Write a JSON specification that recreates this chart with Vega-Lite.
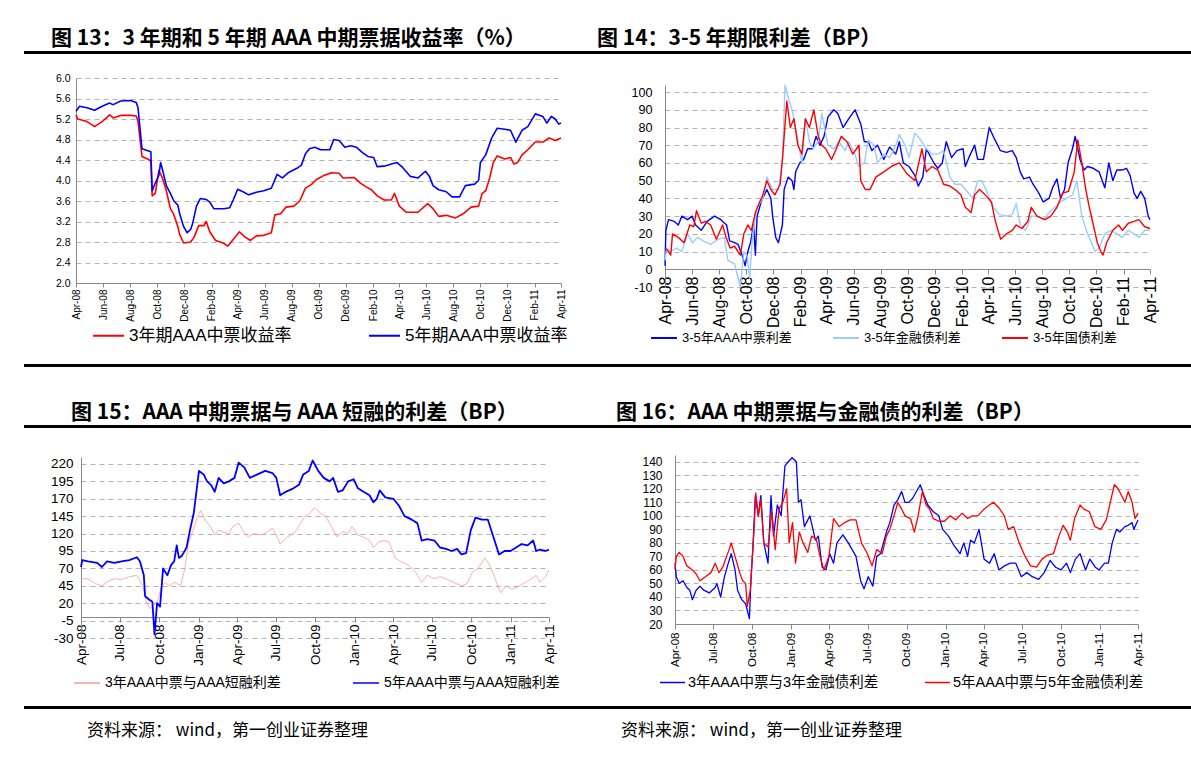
{
"$schema": "https://vega.github.io/schema/vega-lite/v6.json",
"padding": {"left": 24, "top": 26, "right": 0, "bottom": 0},
"background": "white",
"config": {
  "font": "Liberation Sans, Noto Sans CJK SC",
  "view": {"stroke": null},
  "axis": {"labelColor": "#000", "domainColor": "#888", "tickColor": "#888", "gridColor": "#a0a0a0", "gridDash": [5, 4], "gridWidth": 0.8},
  "title": {"font": "Noto Sans CJK SC", "fontWeight": "bold", "fontSize": 21, "color": "#000", "anchor": "start", "offset": -2},
  "line": {"strokeJoin": "round"}
},
"datasets": {
"p1a": [{"d":"2008-04-01","v":5.28},{"d":"2008-04-05","v":5.2},{"d":"2008-04-26","v":5.15},{"d":"2008-05-13","v":5.05},{"d":"2008-05-30","v":5.15},{"d":"2008-06-16","v":5.28},{"d":"2008-06-24","v":5.22},{"d":"2008-07-11","v":5.27},{"d":"2008-08-02","v":5.27},{"d":"2008-08-15","v":5.26},{"d":"2008-08-19","v":5.15},{"d":"2008-08-28","v":4.47},{"d":"2008-09-10","v":4.42},{"d":"2008-09-17","v":4.38},{"d":"2008-09-20","v":3.7},{"d":"2008-09-27","v":3.75},{"d":"2008-10-05","v":4.2},{"d":"2008-10-13","v":4.05},{"d":"2008-10-22","v":3.8},{"d":"2008-10-31","v":3.45},{"d":"2008-11-07","v":3.35},{"d":"2008-11-17","v":3.1},{"d":"2008-11-21","v":2.95},{"d":"2008-11-30","v":2.78},{"d":"2008-12-16","v":2.8},{"d":"2008-12-24","v":2.9},{"d":"2009-01-03","v":3.12},{"d":"2009-01-15","v":3.12},{"d":"2009-01-20","v":3.2},{"d":"2009-01-28","v":3.0},{"d":"2009-02-10","v":2.83},{"d":"2009-02-27","v":2.78},{"d":"2009-03-10","v":2.72},{"d":"2009-03-22","v":2.85},{"d":"2009-04-05","v":3.0},{"d":"2009-04-17","v":2.9},{"d":"2009-04-30","v":2.83},{"d":"2009-05-13","v":2.92},{"d":"2009-05-30","v":2.93},{"d":"2009-06-16","v":2.98},{"d":"2009-06-24","v":3.33},{"d":"2009-07-07","v":3.35},{"d":"2009-07-19","v":3.48},{"d":"2009-08-06","v":3.5},{"d":"2009-08-19","v":3.6},{"d":"2009-09-01","v":3.85},{"d":"2009-09-14","v":3.92},{"d":"2009-09-26","v":4.02},{"d":"2009-10-13","v":4.1},{"d":"2009-10-30","v":4.15},{"d":"2009-11-16","v":4.14},{"d":"2009-11-25","v":4.05},{"d":"2009-12-20","v":4.06},{"d":"2010-01-03","v":3.95},{"d":"2010-01-15","v":3.88},{"d":"2010-01-28","v":3.82},{"d":"2010-02-10","v":3.7},{"d":"2010-02-26","v":3.62},{"d":"2010-03-14","v":3.62},{"d":"2010-03-21","v":3.75},{"d":"2010-04-01","v":3.5},{"d":"2010-04-17","v":3.38},{"d":"2010-05-13","v":3.38},{"d":"2010-06-04","v":3.55},{"d":"2010-06-16","v":3.45},{"d":"2010-06-29","v":3.3},{"d":"2010-07-16","v":3.32},{"d":"2010-08-06","v":3.27},{"d":"2010-08-23","v":3.35},{"d":"2010-09-10","v":3.48},{"d":"2010-09-27","v":3.5},{"d":"2010-10-05","v":3.75},{"d":"2010-10-13","v":3.8},{"d":"2010-10-22","v":4.05},{"d":"2010-10-30","v":4.35},{"d":"2010-11-08","v":4.48},{"d":"2010-11-25","v":4.42},{"d":"2010-12-08","v":4.45},{"d":"2010-12-16","v":4.32},{"d":"2010-12-24","v":4.35},{"d":"2011-01-03","v":4.5},{"d":"2011-01-16","v":4.6},{"d":"2011-02-02","v":4.75},{"d":"2011-02-19","v":4.75},{"d":"2011-03-05","v":4.83},{"d":"2011-03-19","v":4.78},{"d":"2011-04-01","v":4.83}],
"p1b": [{"d":"2008-04-01","v":5.35},{"d":"2008-04-09","v":5.45},{"d":"2008-04-26","v":5.42},{"d":"2008-05-13","v":5.37},{"d":"2008-05-30","v":5.45},{"d":"2008-06-16","v":5.51},{"d":"2008-06-24","v":5.48},{"d":"2008-07-11","v":5.55},{"d":"2008-08-02","v":5.56},{"d":"2008-08-15","v":5.52},{"d":"2008-08-19","v":5.42},{"d":"2008-08-28","v":4.62},{"d":"2008-09-10","v":4.58},{"d":"2008-09-17","v":4.56},{"d":"2008-09-20","v":3.8},{"d":"2008-09-27","v":3.95},{"d":"2008-10-05","v":4.1},{"d":"2008-10-09","v":4.35},{"d":"2008-10-13","v":4.22},{"d":"2008-10-22","v":3.9},{"d":"2008-10-31","v":3.75},{"d":"2008-11-08","v":3.6},{"d":"2008-11-17","v":3.52},{"d":"2008-11-21","v":3.35},{"d":"2008-11-30","v":3.1},{"d":"2008-12-08","v":2.98},{"d":"2008-12-16","v":3.05},{"d":"2008-12-20","v":3.15},{"d":"2008-12-29","v":3.5},{"d":"2009-01-07","v":3.65},{"d":"2009-01-20","v":3.63},{"d":"2009-01-28","v":3.58},{"d":"2009-02-06","v":3.45},{"d":"2009-02-18","v":3.45},{"d":"2009-03-01","v":3.45},{"d":"2009-03-14","v":3.47},{"d":"2009-03-22","v":3.62},{"d":"2009-04-01","v":3.83},{"d":"2009-04-13","v":3.78},{"d":"2009-04-26","v":3.72},{"d":"2009-05-13","v":3.77},{"d":"2009-05-30","v":3.8},{"d":"2009-06-16","v":3.85},{"d":"2009-06-29","v":4.12},{"d":"2009-07-11","v":4.05},{"d":"2009-07-24","v":4.15},{"d":"2009-08-15","v":4.25},{"d":"2009-08-23","v":4.3},{"d":"2009-09-01","v":4.52},{"d":"2009-09-10","v":4.62},{"d":"2009-09-22","v":4.65},{"d":"2009-10-05","v":4.6},{"d":"2009-10-26","v":4.6},{"d":"2009-11-04","v":4.8},{"d":"2009-11-16","v":4.78},{"d":"2009-11-29","v":4.65},{"d":"2009-12-12","v":4.68},{"d":"2009-12-25","v":4.65},{"d":"2010-01-07","v":4.55},{"d":"2010-01-20","v":4.47},{"d":"2010-02-02","v":4.45},{"d":"2010-02-10","v":4.27},{"d":"2010-02-26","v":4.28},{"d":"2010-03-14","v":4.32},{"d":"2010-03-27","v":4.35},{"d":"2010-04-09","v":4.25},{"d":"2010-04-26","v":4.08},{"d":"2010-05-13","v":4.05},{"d":"2010-05-30","v":4.18},{"d":"2010-06-08","v":4.08},{"d":"2010-06-16","v":3.9},{"d":"2010-06-29","v":3.82},{"d":"2010-07-16","v":3.78},{"d":"2010-07-29","v":3.68},{"d":"2010-08-15","v":3.68},{"d":"2010-08-28","v":3.9},{"d":"2010-09-18","v":3.93},{"d":"2010-09-27","v":4.0},{"d":"2010-10-01","v":4.35},{"d":"2010-10-13","v":4.5},{"d":"2010-10-26","v":4.82},{"d":"2010-11-08","v":5.02},{"d":"2010-11-25","v":5.0},{"d":"2010-12-08","v":4.98},{"d":"2010-12-20","v":4.75},{"d":"2011-01-03","v":4.98},{"d":"2011-01-16","v":5.05},{"d":"2011-02-02","v":5.3},{"d":"2011-02-19","v":5.25},{"d":"2011-02-28","v":5.12},{"d":"2011-03-10","v":5.25},{"d":"2011-03-19","v":5.2},{"d":"2011-03-27","v":5.1},{"d":"2011-04-01","v":5.12}],
"p2a": [{"d":"2008-04-01","v":2},{"d":"2008-04-03","v":22},{"d":"2008-04-09","v":28},{"d":"2008-04-22","v":27},{"d":"2008-05-01","v":25},{"d":"2008-05-09","v":30},{"d":"2008-05-22","v":28},{"d":"2008-06-01","v":30},{"d":"2008-06-09","v":25},{"d":"2008-06-22","v":22},{"d":"2008-07-05","v":27},{"d":"2008-07-22","v":30},{"d":"2008-08-05","v":28},{"d":"2008-08-18","v":25},{"d":"2008-08-25","v":16},{"d":"2008-09-05","v":15},{"d":"2008-09-13","v":14},{"d":"2008-09-22","v":8},{"d":"2008-09-29","v":2},{"d":"2008-10-05","v":10},{"d":"2008-10-11","v":15},{"d":"2008-10-18","v":25},{"d":"2008-10-22","v":8},{"d":"2008-10-26","v":30},{"d":"2008-11-04","v":38},{"d":"2008-11-17","v":45},{"d":"2008-11-26","v":40},{"d":"2008-11-30","v":30},{"d":"2008-12-07","v":18},{"d":"2008-12-13","v":15},{"d":"2008-12-22","v":25},{"d":"2008-12-26","v":45},{"d":"2009-01-04","v":52},{"d":"2009-01-13","v":50},{"d":"2009-01-17","v":45},{"d":"2009-01-21","v":55},{"d":"2009-01-30","v":60},{"d":"2009-02-08","v":62},{"d":"2009-02-17","v":68},{"d":"2009-02-28","v":68},{"d":"2009-03-08","v":75},{"d":"2009-03-17","v":70},{"d":"2009-03-26","v":75},{"d":"2009-04-04","v":86},{"d":"2009-04-17","v":90},{"d":"2009-04-26","v":88},{"d":"2009-05-08","v":80},{"d":"2009-05-21","v":85},{"d":"2009-06-04","v":90},{"d":"2009-06-17","v":82},{"d":"2009-06-25","v":72},{"d":"2009-07-04","v":72},{"d":"2009-07-12","v":67},{"d":"2009-07-25","v":70},{"d":"2009-08-08","v":62},{"d":"2009-08-21","v":69},{"d":"2009-09-04","v":65},{"d":"2009-09-12","v":72},{"d":"2009-09-21","v":60},{"d":"2009-10-04","v":58},{"d":"2009-10-17","v":53},{"d":"2009-10-25","v":47},{"d":"2009-11-04","v":52},{"d":"2009-11-12","v":68},{"d":"2009-11-29","v":60},{"d":"2009-12-08","v":57},{"d":"2009-12-18","v":60},{"d":"2009-12-27","v":72},{"d":"2010-01-08","v":63},{"d":"2010-01-20","v":67},{"d":"2010-02-03","v":68},{"d":"2010-02-08","v":58},{"d":"2010-02-16","v":63},{"d":"2010-03-01","v":70},{"d":"2010-03-08","v":62},{"d":"2010-03-21","v":62},{"d":"2010-04-03","v":80},{"d":"2010-04-16","v":73},{"d":"2010-04-28","v":67},{"d":"2010-05-12","v":66},{"d":"2010-05-25","v":67},{"d":"2010-06-03","v":63},{"d":"2010-06-12","v":55},{"d":"2010-06-20","v":51},{"d":"2010-07-03","v":52},{"d":"2010-07-11","v":48},{"d":"2010-07-24","v":43},{"d":"2010-08-03","v":38},{"d":"2010-08-16","v":40},{"d":"2010-08-24","v":46},{"d":"2010-09-03","v":51},{"d":"2010-09-11","v":40},{"d":"2010-09-20","v":45},{"d":"2010-09-28","v":60},{"d":"2010-10-08","v":68},{"d":"2010-10-14","v":75},{"d":"2010-10-25","v":62},{"d":"2010-11-03","v":56},{"d":"2010-11-11","v":58},{"d":"2010-11-24","v":57},{"d":"2010-12-07","v":55},{"d":"2010-12-20","v":46},{"d":"2010-12-29","v":60},{"d":"2011-01-07","v":50},{"d":"2011-01-16","v":56},{"d":"2011-01-28","v":56},{"d":"2011-02-07","v":57},{"d":"2011-02-15","v":53},{"d":"2011-02-24","v":43},{"d":"2011-03-03","v":40},{"d":"2011-03-11","v":44},{"d":"2011-03-20","v":40},{"d":"2011-03-28","v":30},{"d":"2011-04-01","v":28}],
"p2b": [{"d":"2008-04-01","v":5},{"d":"2008-04-05","v":12},{"d":"2008-04-14","v":10},{"d":"2008-04-27","v":12},{"d":"2008-05-09","v":10},{"d":"2008-05-22","v":20},{"d":"2008-06-02","v":15},{"d":"2008-06-13","v":18},{"d":"2008-06-26","v":16},{"d":"2008-07-13","v":14},{"d":"2008-07-30","v":17},{"d":"2008-08-13","v":18},{"d":"2008-08-21","v":5},{"d":"2008-09-05","v":3},{"d":"2008-09-18","v":-10},{"d":"2008-09-26","v":10},{"d":"2008-10-03","v":8},{"d":"2008-10-09","v":-5},{"d":"2008-10-16","v":20},{"d":"2008-10-26","v":35},{"d":"2008-11-08","v":40},{"d":"2008-11-17","v":52},{"d":"2008-11-30","v":45},{"d":"2008-12-13","v":45},{"d":"2008-12-22","v":60},{"d":"2008-12-28","v":104},{"d":"2009-01-04","v":97},{"d":"2009-01-13","v":90},{"d":"2009-01-21","v":80},{"d":"2009-02-04","v":60},{"d":"2009-02-12","v":85},{"d":"2009-02-21","v":72},{"d":"2009-03-01","v":68},{"d":"2009-03-13","v":72},{"d":"2009-03-21","v":88},{"d":"2009-04-04","v":70},{"d":"2009-04-17","v":68},{"d":"2009-04-29","v":72},{"d":"2009-05-13","v":67},{"d":"2009-05-21","v":72},{"d":"2009-06-04","v":65},{"d":"2009-06-12","v":58},{"d":"2009-06-25","v":60},{"d":"2009-07-04","v":73},{"d":"2009-07-17","v":70},{"d":"2009-07-25","v":60},{"d":"2009-08-08","v":65},{"d":"2009-08-21","v":63},{"d":"2009-09-04","v":70},{"d":"2009-09-12","v":76},{"d":"2009-09-25","v":70},{"d":"2009-10-04","v":63},{"d":"2009-10-17","v":77},{"d":"2009-10-30","v":73},{"d":"2009-11-12","v":68},{"d":"2009-11-25","v":65},{"d":"2009-12-08","v":65},{"d":"2009-12-21","v":67},{"d":"2010-01-04","v":52},{"d":"2010-01-16","v":48},{"d":"2010-01-29","v":48},{"d":"2010-02-12","v":44},{"d":"2010-02-25","v":40},{"d":"2010-03-08","v":50},{"d":"2010-03-17","v":50},{"d":"2010-03-30","v":43},{"d":"2010-04-12","v":35},{"d":"2010-04-25","v":31},{"d":"2010-05-12","v":30},{"d":"2010-05-25","v":31},{"d":"2010-06-03","v":37},{"d":"2010-06-12","v":25},{"d":"2010-06-24","v":22},{"d":"2010-07-07","v":30},{"d":"2010-07-20","v":30},{"d":"2010-08-03","v":28},{"d":"2010-08-16","v":32},{"d":"2010-08-29","v":35},{"d":"2010-09-11","v":38},{"d":"2010-09-24","v":40},{"d":"2010-10-08","v":42},{"d":"2010-10-18","v":50},{"d":"2010-10-29","v":30},{"d":"2010-11-11","v":20},{"d":"2010-11-20","v":15},{"d":"2010-11-28","v":10},{"d":"2010-12-07","v":12},{"d":"2010-12-20","v":20},{"d":"2011-01-03","v":22},{"d":"2011-01-16","v":20},{"d":"2011-01-28","v":18},{"d":"2011-02-11","v":22},{"d":"2011-02-24","v":20},{"d":"2011-03-07","v":18},{"d":"2011-03-20","v":22},{"d":"2011-04-01","v":22}],
"p2c": [{"d":"2008-04-01","v":12},{"d":"2008-04-09","v":10},{"d":"2008-04-14","v":8},{"d":"2008-04-18","v":20},{"d":"2008-05-01","v":18},{"d":"2008-05-14","v":15},{"d":"2008-05-27","v":25},{"d":"2008-06-05","v":24},{"d":"2008-06-11","v":33},{"d":"2008-06-22","v":26},{"d":"2008-07-01","v":27},{"d":"2008-07-13","v":25},{"d":"2008-07-26","v":17},{"d":"2008-08-09","v":25},{"d":"2008-08-17","v":18},{"d":"2008-08-26","v":12},{"d":"2008-09-05","v":13},{"d":"2008-09-18","v":8},{"d":"2008-09-26","v":20},{"d":"2008-10-05","v":25},{"d":"2008-10-13","v":22},{"d":"2008-10-22","v":32},{"d":"2008-10-30","v":37},{"d":"2008-11-08","v":42},{"d":"2008-11-17","v":50},{"d":"2008-11-26","v":45},{"d":"2008-12-05","v":42},{"d":"2008-12-17","v":48},{"d":"2008-12-23","v":65},{"d":"2009-01-01","v":95},{"d":"2009-01-09","v":80},{"d":"2009-01-17","v":85},{"d":"2009-01-26","v":70},{"d":"2009-02-04","v":65},{"d":"2009-02-12","v":85},{"d":"2009-02-21","v":80},{"d":"2009-03-03","v":90},{"d":"2009-03-13","v":75},{"d":"2009-03-21","v":70},{"d":"2009-03-30","v":68},{"d":"2009-04-12","v":62},{"d":"2009-04-21","v":67},{"d":"2009-05-04","v":75},{"d":"2009-05-17","v":72},{"d":"2009-05-30","v":65},{"d":"2009-06-13","v":70},{"d":"2009-06-17","v":50},{"d":"2009-06-27","v":45},{"d":"2009-07-08","v":45},{"d":"2009-07-21","v":52},{"d":"2009-08-08","v":55},{"d":"2009-08-25","v":58},{"d":"2009-09-12","v":60},{"d":"2009-09-29","v":54},{"d":"2009-10-17","v":50},{"d":"2009-11-02","v":68},{"d":"2009-11-12","v":55},{"d":"2009-11-25","v":58},{"d":"2009-12-08","v":56},{"d":"2009-12-21","v":48},{"d":"2010-01-04","v":47},{"d":"2010-01-16","v":45},{"d":"2010-01-29","v":42},{"d":"2010-02-08","v":35},{"d":"2010-02-21","v":32},{"d":"2010-03-01","v":42},{"d":"2010-03-12","v":45},{"d":"2010-03-25","v":42},{"d":"2010-04-08","v":38},{"d":"2010-04-16","v":28},{"d":"2010-04-25","v":20},{"d":"2010-04-29","v":17},{"d":"2010-05-12","v":20},{"d":"2010-05-25","v":22},{"d":"2010-06-03","v":25},{"d":"2010-06-16","v":23},{"d":"2010-06-29","v":27},{"d":"2010-07-07","v":35},{"d":"2010-07-20","v":30},{"d":"2010-08-07","v":28},{"d":"2010-08-20","v":30},{"d":"2010-09-03","v":35},{"d":"2010-09-16","v":43},{"d":"2010-09-29","v":44},{"d":"2010-10-12","v":55},{"d":"2010-10-20","v":73},{"d":"2010-10-29","v":60},{"d":"2010-11-07","v":45},{"d":"2010-11-15","v":35},{"d":"2010-11-24","v":25},{"d":"2010-12-03","v":15},{"d":"2010-12-11","v":10},{"d":"2010-12-16","v":8},{"d":"2010-12-24","v":15},{"d":"2011-01-07","v":22},{"d":"2011-01-20","v":25},{"d":"2011-01-29","v":22},{"d":"2011-02-11","v":26},{"d":"2011-02-24","v":27},{"d":"2011-03-07","v":28},{"d":"2011-03-20","v":24},{"d":"2011-04-01","v":23}],
"p3a": [{"d":"2008-04-01","v":55},{"d":"2008-04-17","v":55},{"d":"2008-05-05","v":48},{"d":"2008-05-20","v":45},{"d":"2008-06-05","v":52},{"d":"2008-06-18","v":55},{"d":"2008-07-05","v":54},{"d":"2008-07-23","v":58},{"d":"2008-08-10","v":60},{"d":"2008-08-23","v":45},{"d":"2008-09-02","v":20},{"d":"2008-09-10","v":12},{"d":"2008-09-19","v":18},{"d":"2008-09-28","v":25},{"d":"2008-10-07","v":45},{"d":"2008-10-15","v":50},{"d":"2008-10-24","v":45},{"d":"2008-11-07","v":50},{"d":"2008-11-20","v":45},{"d":"2008-11-30","v":70},{"d":"2008-12-08","v":105},{"d":"2008-12-21","v":128},{"d":"2008-12-30","v":145},{"d":"2009-01-06","v":153},{"d":"2009-01-16","v":140},{"d":"2009-01-29","v":130},{"d":"2009-02-08","v":118},{"d":"2009-02-17","v":125},{"d":"2009-03-01","v":122},{"d":"2009-03-13","v":120},{"d":"2009-03-22","v":130},{"d":"2009-04-05","v":135},{"d":"2009-04-14","v":125},{"d":"2009-04-27","v":115},{"d":"2009-05-10","v":120},{"d":"2009-05-28","v":118},{"d":"2009-06-10","v":122},{"d":"2009-06-23","v":128},{"d":"2009-07-02","v":118},{"d":"2009-07-11","v":105},{"d":"2009-07-28","v":115},{"d":"2009-08-15","v":122},{"d":"2009-08-28","v":135},{"d":"2009-09-07","v":145},{"d":"2009-09-20","v":150},{"d":"2009-09-29","v":157},{"d":"2009-10-12","v":150},{"d":"2009-10-25","v":145},{"d":"2009-11-08","v":130},{"d":"2009-11-21","v":115},{"d":"2009-12-04","v":123},{"d":"2009-12-17","v":120},{"d":"2009-12-26","v":130},{"d":"2010-01-09","v":118},{"d":"2010-01-22","v":115},{"d":"2010-02-05","v":110},{"d":"2010-02-14","v":100},{"d":"2010-02-27","v":108},{"d":"2010-03-10","v":110},{"d":"2010-03-23","v":108},{"d":"2010-04-06","v":85},{"d":"2010-04-19","v":80},{"d":"2010-05-06","v":75},{"d":"2010-05-24","v":65},{"d":"2010-06-07","v":50},{"d":"2010-06-20","v":60},{"d":"2010-07-07","v":55},{"d":"2010-07-20","v":58},{"d":"2010-08-03","v":55},{"d":"2010-08-20","v":50},{"d":"2010-09-08","v":45},{"d":"2010-09-21","v":48},{"d":"2010-10-04","v":65},{"d":"2010-10-17","v":70},{"d":"2010-11-02","v":85},{"d":"2010-11-13","v":75},{"d":"2010-11-26","v":55},{"d":"2010-12-09","v":35},{"d":"2010-12-22","v":45},{"d":"2011-01-05","v":40},{"d":"2011-01-23","v":45},{"d":"2011-02-05","v":50},{"d":"2011-02-19","v":55},{"d":"2011-03-02","v":60},{"d":"2011-03-11","v":50},{"d":"2011-03-24","v":58},{"d":"2011-04-01","v":68}],
"p3b": [{"d":"2008-04-01","v":72},{"d":"2008-04-04","v":82},{"d":"2008-04-17","v":80},{"d":"2008-05-09","v":78},{"d":"2008-05-20","v":72},{"d":"2008-06-01","v":80},{"d":"2008-06-18","v":78},{"d":"2008-07-05","v":80},{"d":"2008-07-23","v":82},{"d":"2008-08-10","v":86},{"d":"2008-08-17","v":80},{"d":"2008-08-26","v":60},{"d":"2008-08-29","v":30},{"d":"2008-09-08","v":25},{"d":"2008-09-15","v":22},{"d":"2008-09-20","v":-25},{"d":"2008-09-26","v":20},{"d":"2008-10-03","v":15},{"d":"2008-10-10","v":70},{"d":"2008-10-20","v":60},{"d":"2008-10-29","v":75},{"d":"2008-11-05","v":80},{"d":"2008-11-11","v":103},{"d":"2008-11-16","v":85},{"d":"2008-11-23","v":88},{"d":"2008-12-04","v":100},{"d":"2008-12-12","v":125},{"d":"2008-12-21","v":150},{"d":"2008-12-28","v":185},{"d":"2009-01-02","v":210},{"d":"2009-01-13","v":205},{"d":"2009-01-21","v":195},{"d":"2009-01-30","v":190},{"d":"2009-02-08","v":180},{"d":"2009-02-17","v":200},{"d":"2009-03-01","v":192},{"d":"2009-03-13","v":195},{"d":"2009-03-26","v":200},{"d":"2009-04-05","v":222},{"d":"2009-04-18","v":215},{"d":"2009-05-01","v":200},{"d":"2009-05-19","v":205},{"d":"2009-06-06","v":210},{"d":"2009-06-23","v":207},{"d":"2009-07-02","v":200},{"d":"2009-07-11","v":175},{"d":"2009-07-24","v":180},{"d":"2009-08-11","v":185},{"d":"2009-08-24","v":190},{"d":"2009-09-03","v":205},{"d":"2009-09-16","v":210},{"d":"2009-09-25","v":225},{"d":"2009-10-08","v":210},{"d":"2009-10-21","v":200},{"d":"2009-11-04","v":195},{"d":"2009-11-12","v":200},{"d":"2009-11-23","v":180},{"d":"2009-12-04","v":182},{"d":"2009-12-17","v":195},{"d":"2009-12-30","v":198},{"d":"2010-01-09","v":185},{"d":"2010-01-22","v":180},{"d":"2010-02-05","v":175},{"d":"2010-02-14","v":165},{"d":"2010-02-22","v":170},{"d":"2010-03-01","v":182},{"d":"2010-03-14","v":172},{"d":"2010-04-02","v":170},{"d":"2010-04-15","v":160},{"d":"2010-04-28","v":145},{"d":"2010-05-15","v":140},{"d":"2010-05-28","v":135},{"d":"2010-06-07","v":110},{"d":"2010-06-20","v":112},{"d":"2010-07-07","v":110},{"d":"2010-07-20","v":100},{"d":"2010-08-03","v":98},{"d":"2010-08-16","v":95},{"d":"2010-08-29","v":98},{"d":"2010-09-08","v":90},{"d":"2010-09-19","v":92},{"d":"2010-09-30","v":125},{"d":"2010-10-11","v":143},{"d":"2010-10-26","v":140},{"d":"2010-11-09","v":140},{"d":"2010-11-22","v":115},{"d":"2010-12-05","v":90},{"d":"2010-12-18","v":95},{"d":"2011-01-01","v":95},{"d":"2011-01-14","v":100},{"d":"2011-01-27","v":105},{"d":"2011-02-10","v":103},{"d":"2011-02-23","v":110},{"d":"2011-03-02","v":95},{"d":"2011-03-11","v":97},{"d":"2011-03-24","v":95},{"d":"2011-04-01","v":97}],
"p4a": [{"d":"2008-04-01","v":65},{"d":"2008-04-04","v":55},{"d":"2008-04-11","v":50},{"d":"2008-04-20","v":52},{"d":"2008-04-29","v":47},{"d":"2008-05-06","v":45},{"d":"2008-05-12","v":38},{"d":"2008-05-21","v":45},{"d":"2008-05-30","v":48},{"d":"2008-06-08","v":45},{"d":"2008-06-21","v":43},{"d":"2008-07-05","v":47},{"d":"2008-07-09","v":50},{"d":"2008-07-18","v":40},{"d":"2008-07-27","v":55},{"d":"2008-08-05","v":65},{"d":"2008-08-12","v":72},{"d":"2008-08-21","v":60},{"d":"2008-08-27","v":45},{"d":"2008-09-06","v":38},{"d":"2008-09-15","v":35},{"d":"2008-09-24","v":24},{"d":"2008-09-28","v":55},{"d":"2008-10-02","v":75},{"d":"2008-10-08","v":115},{"d":"2008-10-15","v":100},{"d":"2008-10-21","v":115},{"d":"2008-10-28","v":80},{"d":"2008-11-07","v":65},{"d":"2008-11-14","v":115},{"d":"2008-11-20","v":85},{"d":"2008-11-29","v":108},{"d":"2008-12-08","v":100},{"d":"2008-12-17","v":137},{"d":"2008-12-25","v":140},{"d":"2009-01-03","v":143},{"d":"2009-01-13","v":140},{"d":"2009-01-18","v":110},{"d":"2009-01-24","v":112},{"d":"2009-02-01","v":92},{"d":"2009-02-14","v":100},{"d":"2009-02-27","v":82},{"d":"2009-03-06","v":85},{"d":"2009-03-15","v":62},{"d":"2009-03-24","v":60},{"d":"2009-04-02","v":72},{"d":"2009-04-11","v":65},{"d":"2009-04-19","v":80},{"d":"2009-05-03","v":86},{"d":"2009-05-16","v":80},{"d":"2009-05-25","v":75},{"d":"2009-06-03","v":70},{"d":"2009-06-14","v":52},{"d":"2009-06-22","v":46},{"d":"2009-07-02","v":55},{"d":"2009-07-13","v":48},{"d":"2009-07-22","v":70},{"d":"2009-07-31","v":72},{"d":"2009-08-14","v":88},{"d":"2009-08-22","v":95},{"d":"2009-09-01","v":108},{"d":"2009-09-10","v":112},{"d":"2009-09-19","v":118},{"d":"2009-09-27","v":110},{"d":"2009-10-06","v":110},{"d":"2009-10-15","v":113},{"d":"2009-10-24","v":118},{"d":"2009-11-02","v":123},{"d":"2009-11-11","v":115},{"d":"2009-11-20","v":108},{"d":"2009-12-03","v":103},{"d":"2009-12-16","v":100},{"d":"2009-12-25","v":90},{"d":"2010-01-08","v":85},{"d":"2010-01-21","v":78},{"d":"2010-02-04","v":72},{"d":"2010-02-13","v":80},{"d":"2010-02-22","v":70},{"d":"2010-03-01","v":82},{"d":"2010-03-10","v":80},{"d":"2010-03-21","v":90},{"d":"2010-04-02","v":68},{"d":"2010-04-15","v":65},{"d":"2010-04-26","v":72},{"d":"2010-05-07","v":60},{"d":"2010-05-20","v":63},{"d":"2010-06-03","v":65},{"d":"2010-06-16","v":65},{"d":"2010-06-29","v":55},{"d":"2010-07-12","v":58},{"d":"2010-07-25","v":55},{"d":"2010-08-09","v":53},{"d":"2010-08-22","v":58},{"d":"2010-09-05","v":67},{"d":"2010-09-18","v":62},{"d":"2010-10-01","v":60},{"d":"2010-10-14","v":65},{"d":"2010-10-23","v":58},{"d":"2010-11-04","v":68},{"d":"2010-11-15","v":72},{"d":"2010-11-28","v":60},{"d":"2010-12-08","v":68},{"d":"2010-12-21","v":62},{"d":"2010-12-30","v":60},{"d":"2011-01-12","v":65},{"d":"2011-01-21","v":65},{"d":"2011-01-30","v":80},{"d":"2011-02-09","v":90},{"d":"2011-02-17","v":88},{"d":"2011-03-01","v":92},{"d":"2011-03-09","v":93},{"d":"2011-03-18","v":95},{"d":"2011-03-22","v":90},{"d":"2011-04-01","v":97}],
"p4b": [{"d":"2008-04-01","v":60},{"d":"2008-04-04","v":70},{"d":"2008-04-11","v":73},{"d":"2008-04-20","v":70},{"d":"2008-04-29","v":63},{"d":"2008-05-12","v":60},{"d":"2008-05-21","v":57},{"d":"2008-05-30","v":52},{"d":"2008-06-12","v":55},{"d":"2008-06-25","v":58},{"d":"2008-07-05","v":65},{"d":"2008-07-14","v":58},{"d":"2008-07-23","v":62},{"d":"2008-08-01","v":70},{"d":"2008-08-07","v":75},{"d":"2008-08-12","v":80},{"d":"2008-08-21","v":70},{"d":"2008-09-01","v":58},{"d":"2008-09-08","v":52},{"d":"2008-09-15","v":50},{"d":"2008-09-19","v":33},{"d":"2008-09-26","v":45},{"d":"2008-09-29","v":60},{"d":"2008-10-05","v":90},{"d":"2008-10-09","v":117},{"d":"2008-10-15","v":100},{"d":"2008-10-21","v":112},{"d":"2008-10-28","v":80},{"d":"2008-11-07","v":77},{"d":"2008-11-16","v":103},{"d":"2008-11-24","v":75},{"d":"2008-12-03","v":105},{"d":"2008-12-12","v":110},{"d":"2008-12-21","v":120},{"d":"2008-12-27","v":80},{"d":"2009-01-04","v":95},{"d":"2009-01-11","v":65},{"d":"2009-01-20","v":88},{"d":"2009-01-29","v":80},{"d":"2009-02-09","v":73},{"d":"2009-02-18","v":85},{"d":"2009-03-01","v":83},{"d":"2009-03-10","v":70},{"d":"2009-03-19","v":60},{"d":"2009-03-31","v":70},{"d":"2009-04-11","v":98},{"d":"2009-04-24","v":92},{"d":"2009-05-07","v":95},{"d":"2009-05-20","v":97},{"d":"2009-06-03","v":97},{"d":"2009-06-16","v":80},{"d":"2009-06-30","v":72},{"d":"2009-07-11","v":63},{"d":"2009-07-22","v":75},{"d":"2009-08-04","v":72},{"d":"2009-08-14","v":85},{"d":"2009-08-22","v":90},{"d":"2009-09-01","v":100},{"d":"2009-09-10","v":110},{"d":"2009-09-19","v":105},{"d":"2009-09-27","v":100},{"d":"2009-10-10","v":98},{"d":"2009-10-19","v":88},{"d":"2009-10-28","v":100},{"d":"2009-11-07","v":118},{"d":"2009-11-16","v":108},{"d":"2009-11-24","v":105},{"d":"2009-12-03","v":98},{"d":"2009-12-16","v":96},{"d":"2009-12-29","v":96},{"d":"2010-01-12","v":100},{"d":"2010-01-25","v":97},{"d":"2010-02-09","v":102},{"d":"2010-02-22","v":98},{"d":"2010-03-05","v":100},{"d":"2010-03-18","v":100},{"d":"2010-04-02","v":105},{"d":"2010-04-15","v":108},{"d":"2010-04-24","v":110},{"d":"2010-05-07","v":106},{"d":"2010-05-20","v":100},{"d":"2010-05-29","v":90},{"d":"2010-06-11","v":92},{"d":"2010-06-24","v":80},{"d":"2010-07-08","v":70},{"d":"2010-07-21","v":63},{"d":"2010-08-04","v":62},{"d":"2010-08-17","v":68},{"d":"2010-08-30","v":71},{"d":"2010-09-13","v":72},{"d":"2010-09-26","v":85},{"d":"2010-10-06","v":93},{"d":"2010-10-16","v":88},{"d":"2010-10-23","v":82},{"d":"2010-11-02","v":98},{"d":"2010-11-15","v":108},{"d":"2010-11-24","v":105},{"d":"2010-12-07","v":103},{"d":"2010-12-20","v":92},{"d":"2011-01-03","v":90},{"d":"2011-01-16","v":97},{"d":"2011-01-24","v":108},{"d":"2011-02-04","v":123},{"d":"2011-02-13","v":120},{"d":"2011-02-21","v":115},{"d":"2011-03-01","v":110},{"d":"2011-03-09","v":118},{"d":"2011-03-18","v":110},{"d":"2011-03-25","v":98},{"d":"2011-04-01","v":102}]
},
"columns": 1, "spacing": 28,
"resolve": {"scale": {"color": "independent"}, "legend": {"color": "independent"}},
"concat": [
 {"columns": 1, "spacing": 13,
  "resolve": {"scale": {"color": "independent"}, "legend": {"color": "independent"}},
  "concat": [
   {"columns": 2, "spacing": 0,
    "resolve": {"scale": {"color": "independent"}, "legend": {"color": "independent"}},
    "concat": [
     {"columns": 1, "spacing": 14,
      "concat": [
       {"width": 566, "height": 1, "data": {"values": [{}]}, "mark": "text", "encoding": {"text": {"value": ""}},
        "view": {"stroke": "#000", "strokeWidth": 2},
        "title": {"text": "图 13：3 年期和 5 年期 AAA 中期票据收益率（%）", "dx": 26}},
       {"width": 566, "height": 205,
        "encoding": {
         "x": {"field": "d", "type": "temporal",
               "scale": {"type": "utc", "range": [51, 536], "domain": [{"year": 2008, "month": 4, "date": 1, "utc": true}, {"year": 2011, "month": 4, "date": 1, "utc": true}]},
               "axis": {"title": null, "labelExpr": "utcFormat(datum.value, '%b-%y')", "labelAngle": -90, "labelFontSize": 10, "labelPadding": 2, "tickSize": 4, "grid": false,
                        "values": [{"year":2008,"month":4,"date":1,"utc":true},{"year":2008,"month":6,"date":1,"utc":true},{"year":2008,"month":8,"date":1,"utc":true},{"year":2008,"month":10,"date":1,"utc":true},{"year":2008,"month":12,"date":1,"utc":true},{"year":2009,"month":2,"date":1,"utc":true},{"year":2009,"month":4,"date":1,"utc":true},{"year":2009,"month":6,"date":1,"utc":true},{"year":2009,"month":8,"date":1,"utc":true},{"year":2009,"month":10,"date":1,"utc":true},{"year":2009,"month":12,"date":1,"utc":true},{"year":2010,"month":2,"date":1,"utc":true},{"year":2010,"month":4,"date":1,"utc":true},{"year":2010,"month":6,"date":1,"utc":true},{"year":2010,"month":8,"date":1,"utc":true},{"year":2010,"month":10,"date":1,"utc":true},{"year":2010,"month":12,"date":1,"utc":true},{"year":2011,"month":2,"date":1,"utc":true},{"year":2011,"month":4,"date":1,"utc":true}]}},
         "y": {"field": "v", "type": "quantitative", "scale": {"domain": [2, 6], "nice": false, "zero": false},
               "axis": {"title": null, "offset": -51, "values": [2, 2.4, 2.8, 3.2, 3.6, 4, 4.4, 4.8, 5.2, 5.6, 6], "format": ".1f", "labelFontSize": 10.5, "labelPadding": 6, "ticks": false, "minExtent": 0, "grid": true}}
        },
        "layer": [
         {"data": {"name": "p1a"}, "mark": {"type": "line", "strokeWidth": 1.6},
          "encoding": {"color": {"datum": "3年期AAA中票收益率",
            "scale": {"domain": ["3年期AAA中票收益率", "5年期AAA中票收益率"], "range": ["#ff0000", "#0000ff"]},
            "legend": {"orient": "none", "legendX": 67, "legendY": 267, "direction": "horizontal", "title": null, "symbolType": "stroke", "symbolSize": 961, "symbolStrokeWidth": 2, "labelFontSize": 17, "labelOffset": 4, "columnPadding": 76, "padding": 0, "labelColor": "#000", "labelLimit": 400}}}},
         {"data": {"name": "p1b"}, "mark": {"type": "line", "strokeWidth": 1.6},
          "encoding": {"color": {"datum": "5年期AAA中票收益率"}}}
        ]}
      ]},
     {"columns": 1, "spacing": 25,
      "concat": [
       {"width": 600, "height": 1, "data": {"values": [{}]}, "mark": "text", "encoding": {"text": {"value": ""}},
        "view": {"stroke": "#000", "strokeWidth": 2},
        "title": {"text": "图 14：3-5 年期限利差（BP）", "dx": 4}},
       {"width": 600, "height": 202,
        "encoding": {
         "x": {"field": "d", "type": "temporal",
               "scale": {"type": "utc", "range": [72, 557], "domain": [{"year": 2008, "month": 4, "date": 1, "utc": true}, {"year": 2011, "month": 4, "date": 1, "utc": true}]},
               "axis": {"title": null, "labelExpr": "utcFormat(datum.value, '%b-%y')", "labelAngle": -90, "labelFontSize": 16, "labelPadding": 2, "tickSize": 5, "grid": false, "offset": -18,
                        "values": [{"year":2008,"month":4,"date":1,"utc":true},{"year":2008,"month":6,"date":1,"utc":true},{"year":2008,"month":8,"date":1,"utc":true},{"year":2008,"month":10,"date":1,"utc":true},{"year":2008,"month":12,"date":1,"utc":true},{"year":2009,"month":2,"date":1,"utc":true},{"year":2009,"month":4,"date":1,"utc":true},{"year":2009,"month":6,"date":1,"utc":true},{"year":2009,"month":8,"date":1,"utc":true},{"year":2009,"month":10,"date":1,"utc":true},{"year":2009,"month":12,"date":1,"utc":true},{"year":2010,"month":2,"date":1,"utc":true},{"year":2010,"month":4,"date":1,"utc":true},{"year":2010,"month":6,"date":1,"utc":true},{"year":2010,"month":8,"date":1,"utc":true},{"year":2010,"month":10,"date":1,"utc":true},{"year":2010,"month":12,"date":1,"utc":true},{"year":2011,"month":2,"date":1,"utc":true},{"year":2011,"month":4,"date":1,"utc":true}]}},
         "y": {"field": "v", "type": "quantitative", "scale": {"domain": [-10, 104], "nice": false, "zero": false},
               "axis": {"title": null, "offset": -72, "values": [-10, 0, 10, 20, 30, 40, 50, 60, 70, 80, 90, 100], "labelExpr": "replace(datum.label, '−', '-')", "labelFontSize": 12.6, "labelPadding": 13, "ticks": false, "minExtent": 0, "grid": true}}
        },
        "layer": [
         {"data": {"name": "p2a"}, "mark": {"type": "line", "strokeWidth": 1.4},
          "encoding": {"color": {"datum": "3-5年AAA中票利差",
            "scale": {"domain": ["3-5年AAA中票利差", "3-5年金融债利差", "3-5年国债利差"], "range": ["#0000ff", "#99ccff", "#ff0000"]},
            "legend": {"orient": "none", "legendX": 57, "legendY": 272, "direction": "horizontal", "title": null, "symbolType": "stroke", "symbolSize": 676, "symbolStrokeWidth": 2, "labelFontSize": 13, "labelOffset": 4, "columnPadding": 40, "padding": 0, "labelColor": "#000", "labelLimit": 400}}}},
         {"data": {"name": "p2b"}, "mark": {"type": "line", "strokeWidth": 1.4},
          "encoding": {"color": {"datum": "3-5年金融债利差"}}},
         {"data": {"name": "p2c"}, "mark": {"type": "line", "strokeWidth": 1.4},
          "encoding": {"color": {"datum": "3-5年国债利差"}}}
        ]}
      ]}
    ]},
   {"width": 1166, "height": 1, "data": {"values": [{}]}, "mark": "text", "encoding": {"text": {"value": ""}},
    "view": {"stroke": "#000", "strokeWidth": 2}}
  ]},
 {"columns": 1, "spacing": 10,
  "resolve": {"scale": {"color": "independent"}, "legend": {"color": "independent"}},
  "concat": [
   {"columns": 2, "spacing": 0,
    "resolve": {"scale": {"color": "independent"}, "legend": {"color": "independent"}},
    "concat": [
     {"columns": 1, "spacing": 23,
      "concat": [
       {"width": 566, "height": 1, "data": {"values": [{}]}, "mark": "text", "encoding": {"text": {"value": ""}},
        "view": {"stroke": "#000", "strokeWidth": 2},
        "title": {"text": "图 15：AAA 中期票据与 AAA 短融的利差（BP）", "dx": 46}},
       {"width": 566, "height": 181,
        "encoding": {
         "x": {"field": "d", "type": "temporal",
               "scale": {"type": "utc", "range": [56, 524], "domain": [{"year": 2008, "month": 4, "date": 1, "utc": true}, {"year": 2011, "month": 4, "date": 1, "utc": true}]},
               "axis": {"title": null, "labelExpr": "utcFormat(datum.value, '%b-%y')", "labelAngle": -90, "labelFontSize": 13.5, "labelPadding": 2, "tickSize": 5, "grid": false, "offset": -21,
                        "values": [{"year":2008,"month":4,"date":1,"utc":true},{"year":2008,"month":7,"date":1,"utc":true},{"year":2008,"month":10,"date":1,"utc":true},{"year":2009,"month":1,"date":1,"utc":true},{"year":2009,"month":4,"date":1,"utc":true},{"year":2009,"month":7,"date":1,"utc":true},{"year":2009,"month":10,"date":1,"utc":true},{"year":2010,"month":1,"date":1,"utc":true},{"year":2010,"month":4,"date":1,"utc":true},{"year":2010,"month":7,"date":1,"utc":true},{"year":2010,"month":10,"date":1,"utc":true},{"year":2011,"month":1,"date":1,"utc":true},{"year":2011,"month":4,"date":1,"utc":true}]}},
         "y": {"field": "v", "type": "quantitative", "scale": {"domain": [-30, 230], "nice": false, "zero": false},
               "axis": {"title": null, "offset": -56, "values": [-30, -5, 20, 45, 70, 95, 120, 145, 170, 195, 220], "labelExpr": "replace(datum.label, '−', '-')", "labelFontSize": 13.5, "labelPadding": 8, "ticks": false, "minExtent": 0, "grid": true}}
        },
        "layer": [
         {"data": {"name": "p3a"}, "mark": {"type": "line", "strokeWidth": 0.8},
          "encoding": {"color": {"datum": "3年AAA中票与AAA短融利差",
            "scale": {"domain": ["3年AAA中票与AAA短融利差", "5年AAA中票与AAA短融利差"], "range": ["#ff9999", "#0000ff"]},
            "legend": {"orient": "none", "legendX": 48, "legendY": 243, "direction": "horizontal", "title": null, "symbolType": "stroke", "symbolSize": 676, "symbolStrokeWidth": 1.5, "labelFontSize": 14, "labelOffset": 4, "columnPadding": 71, "padding": 0, "labelColor": "#000", "labelLimit": 400,
              "encode": {"symbols": {"update": {"strokeWidth": {"signal": "datum.index === 0 ? 1 : 2"}}}}}}}},
         {"data": {"name": "p3b"}, "mark": {"type": "line", "strokeWidth": 1.8},
          "encoding": {"color": {"datum": "5年AAA中票与AAA短融利差"}}}
        ]}
      ]},
     {"columns": 1, "spacing": 22,
      "concat": [
       {"width": 600, "height": 1, "data": {"values": [{}]}, "mark": "text", "encoding": {"text": {"value": ""}},
        "view": {"stroke": "#000", "strokeWidth": 2},
        "title": {"text": "图 16：AAA 中期票据与金融债的利差（BP）", "dx": 23}},
       {"width": 600, "height": 169,
        "encoding": {
         "x": {"field": "d", "type": "temporal",
               "scale": {"type": "utc", "range": [82, 545], "domain": [{"year": 2008, "month": 4, "date": 1, "utc": true}, {"year": 2011, "month": 4, "date": 1, "utc": true}]},
               "axis": {"title": null, "labelExpr": "utcFormat(datum.value, '%b-%y')", "labelAngle": -90, "labelFontSize": 11.5, "labelPadding": 3, "tickSize": 5, "grid": false,
                        "values": [{"year":2008,"month":4,"date":1,"utc":true},{"year":2008,"month":7,"date":1,"utc":true},{"year":2008,"month":10,"date":1,"utc":true},{"year":2009,"month":1,"date":1,"utc":true},{"year":2009,"month":4,"date":1,"utc":true},{"year":2009,"month":7,"date":1,"utc":true},{"year":2009,"month":10,"date":1,"utc":true},{"year":2010,"month":1,"date":1,"utc":true},{"year":2010,"month":4,"date":1,"utc":true},{"year":2010,"month":7,"date":1,"utc":true},{"year":2010,"month":10,"date":1,"utc":true},{"year":2011,"month":1,"date":1,"utc":true},{"year":2011,"month":4,"date":1,"utc":true}]}},
         "y": {"field": "v", "type": "quantitative", "scale": {"domain": [20, 145], "nice": false, "zero": false},
               "axis": {"title": null, "offset": -82, "values": [20, 30, 40, 50, 60, 70, 80, 90, 100, 110, 120, 130, 140], "labelFontSize": 12, "labelPadding": 13, "ticks": false, "minExtent": 0, "grid": true}}
        },
        "layer": [
         {"data": {"name": "p4a"}, "mark": {"type": "line", "strokeWidth": 1.3},
          "encoding": {"color": {"datum": "3年AAA中票与3年金融债利差",
            "scale": {"domain": ["3年AAA中票与3年金融债利差", "5年AAA中票与5年金融债利差"], "range": ["#0000ff", "#ff0000"]},
            "legend": {"orient": "none", "legendX": 66, "legendY": 243, "direction": "horizontal", "title": null, "symbolType": "stroke", "symbolSize": 625, "symbolStrokeWidth": 1.5, "labelFontSize": 14.5, "labelOffset": 2, "columnPadding": 45, "padding": 0, "labelColor": "#000", "labelLimit": 400}}}},
         {"data": {"name": "p4b"}, "mark": {"type": "line", "strokeWidth": 1.3},
          "encoding": {"color": {"datum": "5年AAA中票与5年金融债利差"}}}
        ]}
      ]}
    ]},
   {"columns": 2, "spacing": 0,
    "concat": [
     {"width": 566, "height": 1, "data": {"values": [{}]}, "mark": "text", "encoding": {"text": {"value": ""}},
      "view": {"stroke": "#000", "strokeWidth": 2},
      "title": {"text": "资料来源：  wind，第一创业证券整理", "orient": "bottom", "dx": 62, "offset": 10, "fontSize": 17, "fontWeight": "normal"}},
     {"width": 600, "height": 1, "data": {"values": [{}]}, "mark": "text", "encoding": {"text": {"value": ""}},
      "view": {"stroke": "#000", "strokeWidth": 2},
      "title": {"text": "资料来源：  wind，第一创业证券整理", "orient": "bottom", "dx": 28, "offset": 10, "fontSize": 17, "fontWeight": "normal"}}
    ]}
  ]}
]
}
